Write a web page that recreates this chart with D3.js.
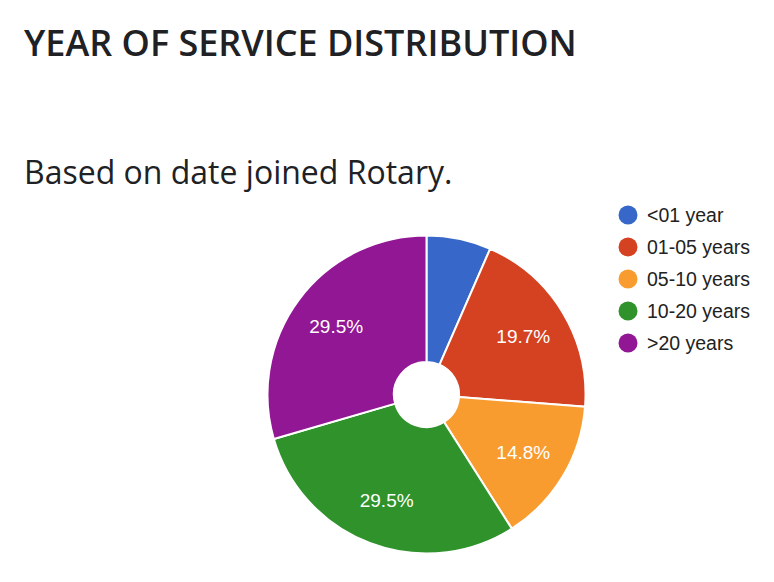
<!DOCTYPE html>
<html>
    <head>
        <meta charset=utf-8>
        <title>Year of service distribution</title>
        <style>
body { margin: 0; background: #fff; }
svg { display: block; }
        </style>
    </head>
    <body>
        <div id="chart"></div>
        <script src="https://d3js.org/d3.v7.min.js"></script>
        <script>
            // member counts per band (61 members total)
            const categories = ["<01 year", "01-05 years", "05-10 years", "10-20 years", ">20 years"]
            const counts = [4, 12, 9, 18, 18]
            const colors = ["#3767c9", "#d54222", "#f99c2f", "#2f922b", "#911794"]

            const width = 774
            const height = 582
            const center = {x: 426.5, y: 394.5}
            const radius = 159

            const svg = d3.select("#chart").append("svg")
                .attr("width", width)
                .attr("height", height)

            svg.append("text")
                .attr("x", 24)
                .attr("y", 56)
                .style("font-family", "'Open Sans', sans-serif")
                .style("font-weight", 600)
                .style("font-size", "36px")
                .style("fill", "#202124")
                .text("YEAR OF SERVICE DISTRIBUTION")

            svg.append("text")
                .attr("x", 24)
                .attr("y", 184)
                .style("font-family", "'Open Sans', sans-serif")
                .style("font-size", "32px")
                .style("fill", "#202124")
                .text("Based on date joined Rotary.")

            const color = d3.scaleOrdinal().domain(categories).range(colors)
            const total = d3.sum(counts)
            const data = categories.map((c, i) => ({name: c, value: counts[i]}))

            const pie = d3.pie().value(d => d.value).sort(null)
            const arc = d3.arc().innerRadius(radius * 0.205).outerRadius(radius)
            const labelArc = d3.arc().innerRadius(radius * 0.71).outerRadius(radius * 0.71)

            const g = svg.append("g")
                .attr("transform", `translate(${center.x},${center.y})`)

            const slices = pie(data)

            g.selectAll("path")
                .data(slices)
                .enter()
                .append("path")
                .attr("d", arc)
                .style("fill", d => color(d.data.name))
                .style("stroke", "#fff")
                .style("stroke-width", "2px")

            // google-style: only label slices big enough
            g.selectAll("text")
                .data(slices.filter(d => d.data.value / total > 0.1))
                .enter()
                .append("text")
                .attr("transform", d => `translate(${labelArc.centroid(d)})`)
                .attr("text-anchor", "middle")
                .attr("dy", "0.35em")
                .style("font-family", "'Liberation Sans', Arial, sans-serif")
                .style("font-size", "19px")
                .style("fill", "#fff")
                .text(d => (d.data.value / total * 100).toFixed(1) + "%")

            const legend = svg.append("g")
                .attr("transform", "translate(628,215)")

            const row = legend.selectAll("g")
                .data(categories)
                .enter()
                .append("g")
                .attr("transform", (d, i) => `translate(0,${i * 32})`)

            row.append("circle")
                .attr("r", 9.5)
                .style("fill", d => color(d))

            row.append("text")
                .attr("x", 19)
                .attr("dy", "0.35em")
                .style("font-family", "'Liberation Sans', Arial, sans-serif")
                .style("font-size", "19.5px")
                .style("fill", "#222")
                .text(d => d)
        </script>
    </body>
</html>
